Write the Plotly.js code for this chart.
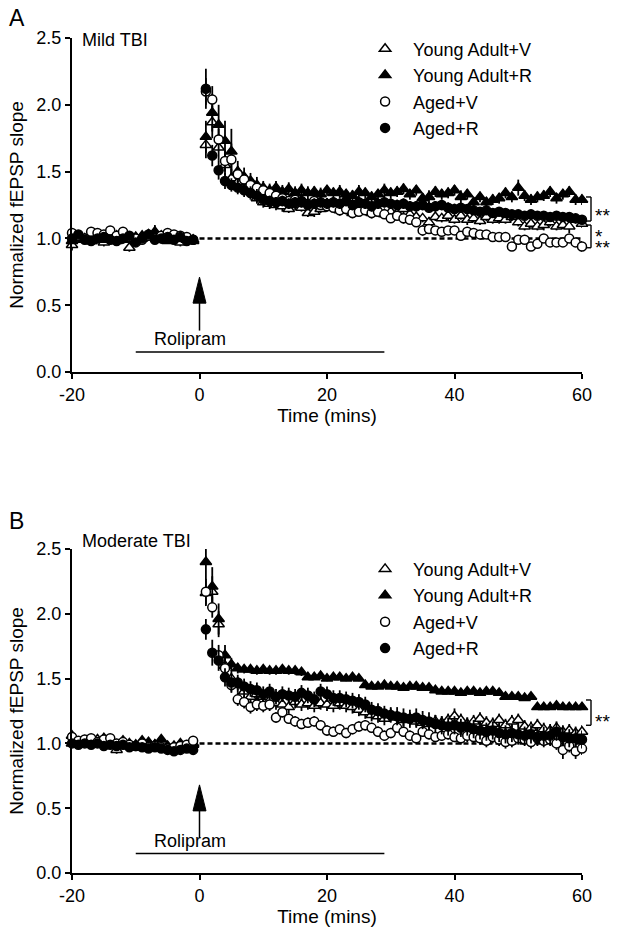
<!DOCTYPE html>
<html><head><meta charset="utf-8">
<script src="https://cdn.plot.ly/plotly-3.0.1.min.js"></script>
<style>html,body{margin:0;padding:0;background:#fff}#chart{width:624px;height:937px}</style>
</head><body><div id="chart"></div>
<script>
// ---- time points (min) ----
var timePre = [-20,-19,-18,-17,-16,-15,-14,-13,-12,-11,-10,-9,-8,-7,-6,-5,-4,-3,-2,-1];
var timePost = [1,2,3,4,5,6,7,8,9,10,11,12,13,14,15,16,17,18,19,20,21,22,23,24,25,26,27,28,29,30,
  31,32,33,34,35,36,37,38,39,40,41,42,43,44,45,46,47,48,49,50,51,52,53,54,55,56,57,58,59,60];
var seriesNames = ['Young Adult+V','Young Adult+R','Aged+V','Aged+R'];
var xTickVals = [-20,0,20,40,60];
var xTickText = ['-20','0','20','40','60'];
var yTickVals = [0,0.5,1,1.5,2,2.5];

// ---- Panel A: Mild TBI (normalized fEPSP slope) ----
var mildYoungV = [0.95,0.99,1.00,0.98,0.99,0.97,1.00,0.98,0.99,0.93,0.98,1.00,1.01,1.02,0.99,0.98,1.00,0.97,1.00,0.99,
  1.70,1.87,1.68,1.55,1.45,1.42,1.38,1.35,1.30,1.27,
  1.26,1.25,1.24,1.22,1.25,1.23,1.19,1.20,1.22,1.26,
  1.23,1.21,1.22,1.19,1.20,1.21,1.19,1.20,1.18,1.20,
  1.19,1.22,1.18,1.16,1.15,1.12,1.16,1.15,1.17,1.14,
  1.17,1.14,1.15,1.13,1.16,1.14,1.15,1.14,1.16,1.12,
  1.09,1.11,1.09,1.10,1.12,1.09,1.10,1.09,1.14,1.11];
var mildYoungR = [0.98,1.00,0.99,0.98,1.01,0.99,1.00,1.02,1.00,0.99,1.01,1.02,1.03,1.05,1.02,0.99,1.00,1.01,0.99,0.98,
  1.76,1.94,1.85,1.73,1.65,1.50,1.46,1.43,1.40,1.38,
  1.36,1.38,1.35,1.37,1.34,1.36,1.34,1.35,1.33,1.36,
  1.34,1.35,1.33,1.32,1.35,1.34,1.31,1.33,1.36,1.34,
  1.35,1.37,1.33,1.36,1.30,1.31,1.35,1.33,1.34,1.36,
  1.31,1.33,1.27,1.31,1.27,1.29,1.30,1.34,1.31,1.38,
  1.32,1.29,1.31,1.32,1.35,1.30,1.33,1.35,1.29,1.29];
var mildAgedV = [1.04,1.02,1.00,1.05,1.04,1.03,1.06,1.02,1.05,1.01,1.00,0.99,1.02,1.00,1.02,1.04,1.03,1.02,1.01,0.99,
  2.10,2.04,1.74,1.58,1.59,1.48,1.44,1.40,1.38,1.36,
  1.34,1.32,1.30,1.28,1.29,1.27,1.26,1.28,1.25,1.24,
  1.23,1.21,1.22,1.19,1.20,1.21,1.19,1.20,1.18,1.15,
  1.17,1.15,1.14,1.12,1.06,1.07,1.06,1.05,1.06,1.06,
  1.02,1.05,1.04,1.03,1.03,1.01,1.01,1.01,0.94,0.99,
  0.99,0.94,0.96,1.00,0.97,0.97,0.97,1.00,0.97,0.94];
var mildAgedR = [1.00,1.03,0.99,0.98,1.00,1.01,0.99,0.98,1.00,1.02,0.97,1.00,1.03,0.99,1.00,1.01,0.99,1.01,0.98,0.99,
  2.12,1.62,1.51,1.43,1.40,1.38,1.36,1.34,1.32,1.29,
  1.28,1.27,1.28,1.26,1.27,1.28,1.25,1.26,1.27,1.26,
  1.27,1.26,1.28,1.25,1.27,1.26,1.24,1.26,1.27,1.26,
  1.25,1.26,1.24,1.24,1.25,1.23,1.24,1.25,1.23,1.22,
  1.23,1.22,1.21,1.20,1.21,1.19,1.20,1.19,1.18,1.18,
  1.17,1.18,1.17,1.17,1.16,1.17,1.16,1.16,1.15,1.14];
// SEM
var mildYoungVsem = [0.04,0.02,0.02,0.03,0.02,0.03,0.02,0.02,0.03,0.03,0.02,0.03,0.02,0.02,0.03,0.02,0.02,0.03,0.02,0.02,
  0.10,0.12,0.10,0.08,0.07,0.06,0.05,0.05,0.04,0.04,
  0.04,0.04,0.04,0.03,0.04,0.03,0.03,0.04,0.03,0.04,
  0.03,0.03,0.04,0.03,0.03,0.03,0.04,0.03,0.03,0.03,
  0.03,0.04,0.03,0.03,0.03,0.04,0.03,0.03,0.04,0.03,
  0.03,0.04,0.03,0.03,0.03,0.03,0.04,0.03,0.03,0.03,
  0.03,0.03,0.03,0.04,0.03,0.03,0.03,0.05,0.03,0.03];
var mildYoungRsem = [0.02,0.03,0.02,0.02,0.03,0.02,0.03,0.03,0.02,0.02,0.03,0.03,0.04,0.05,0.03,0.02,0.03,0.02,0.02,0.02,
  0.12,0.14,0.15,0.15,0.17,0.08,0.07,0.06,0.06,0.05,
  0.05,0.05,0.05,0.05,0.05,0.05,0.05,0.04,0.05,0.04,
  0.04,0.05,0.04,0.04,0.05,0.04,0.04,0.04,0.05,0.04,
  0.04,0.04,0.04,0.04,0.04,0.05,0.04,0.04,0.04,0.04,
  0.05,0.04,0.04,0.04,0.04,0.04,0.04,0.04,0.04,0.06,
  0.04,0.04,0.04,0.04,0.04,0.04,0.04,0.04,0.04,0.04];
var mildAgedVsem = [0.03,0.02,0.02,0.02,0.03,0.02,0.03,0.02,0.02,0.02,0.02,0.02,0.02,0.02,0.03,0.02,0.02,0.02,0.02,0.02,
  0.10,0.10,0.08,0.08,0.12,0.06,0.05,0.05,0.05,0.04,
  0.04,0.04,0.04,0.04,0.04,0.04,0.03,0.04,0.03,0.04,
  0.03,0.04,0.03,0.04,0.03,0.03,0.04,0.03,0.03,0.03,
  0.03,0.04,0.03,0.03,0.04,0.03,0.03,0.03,0.03,0.03,
  0.03,0.03,0.03,0.03,0.03,0.03,0.03,0.03,0.03,0.03,
  0.03,0.03,0.03,0.03,0.03,0.03,0.03,0.03,0.03,0.04];
var mildAgedRsem = [0.03,0.02,0.02,0.02,0.02,0.02,0.02,0.02,0.02,0.02,0.02,0.02,0.03,0.02,0.02,0.02,0.02,0.02,0.02,0.02,
  0.15,0.08,0.07,0.06,0.05,0.05,0.05,0.05,0.05,0.04,
  0.04,0.04,0.04,0.04,0.04,0.04,0.04,0.04,0.04,0.04,
  0.04,0.04,0.04,0.04,0.04,0.04,0.04,0.04,0.04,0.04,
  0.04,0.04,0.04,0.04,0.04,0.04,0.04,0.04,0.04,0.04,
  0.03,0.03,0.03,0.03,0.03,0.03,0.03,0.03,0.03,0.03,
  0.03,0.03,0.03,0.03,0.03,0.03,0.03,0.03,0.03,0.03];

// ---- Panel B: Moderate TBI ----
var modYoungV = [1.06,1.00,1.02,1.00,1.03,1.01,0.99,0.95,0.98,0.99,0.98,0.97,0.98,0.99,0.97,0.96,0.98,0.97,0.98,1.00,
  2.16,2.17,1.92,1.60,1.50,1.45,1.40,1.36,1.38,1.36,
  1.33,1.31,1.30,1.28,1.32,1.30,1.31,1.29,1.31,1.30,
  1.29,1.31,1.29,1.28,1.26,1.24,1.22,1.21,1.19,1.22,
  1.20,1.18,1.19,1.17,1.16,1.15,1.17,1.16,1.18,1.21,
  1.18,1.15,1.17,1.19,1.16,1.15,1.18,1.14,1.17,1.18,
  1.13,1.12,1.14,1.11,1.10,1.12,1.09,1.10,1.08,1.09];
var modYoungR = [1.00,1.01,1.00,1.02,1.00,1.04,1.01,0.99,1.02,1.00,0.99,1.02,1.01,0.99,1.03,0.98,0.97,1.00,0.98,0.99,
  2.40,2.21,1.96,1.68,1.61,
  1.58,1.57,1.57,1.56,1.57,1.56,1.56,1.57,1.56,1.56,1.55,
  1.51,1.51,1.52,1.50,1.51,1.51,1.50,1.51,1.50,
  1.45,1.44,1.44,1.45,1.44,1.44,1.43,1.44,1.44,1.43,1.43,
  1.41,1.40,1.40,1.40,1.39,1.40,1.40,1.39,1.40,1.40,1.39,
  1.36,1.36,1.36,1.35,1.36,
  1.28,1.28,1.28,1.29,1.28,1.28,1.28,1.28];
var modAgedV = [1.05,1.02,1.03,1.04,1.01,1.03,1.04,1.00,1.01,0.99,0.98,1.00,0.97,0.98,0.97,0.96,0.97,0.98,0.99,1.02,
  2.17,2.05,1.68,1.58,1.45,1.34,1.32,1.28,1.30,1.29,
  1.30,1.20,1.24,1.19,1.17,1.15,1.16,1.17,1.14,1.10,
  1.09,1.11,1.08,1.11,1.13,1.14,1.12,1.09,1.06,1.08,
  1.12,1.09,1.06,1.04,1.09,1.07,1.05,1.06,1.07,1.05,
  1.04,1.06,1.05,1.04,1.02,1.05,1.03,1.01,1.02,1.04,
  1.03,1.01,1.04,1.02,1.03,1.00,0.95,0.98,0.94,0.96];
var modAgedR = [1.00,0.99,1.00,0.99,1.00,0.98,0.99,0.98,0.99,0.97,0.98,0.97,0.96,0.97,0.96,0.95,0.94,0.95,0.96,0.95,
  1.88,1.70,1.64,1.51,1.47,1.47,1.44,1.42,1.41,1.38,
  1.40,1.36,1.38,1.37,1.36,1.39,1.37,1.34,1.40,1.38,
  1.35,1.35,1.34,1.33,1.32,1.30,1.26,1.25,1.23,1.22,
  1.21,1.20,1.19,1.20,1.18,1.17,1.15,1.14,1.13,1.14,
  1.12,1.13,1.11,1.10,1.09,1.10,1.08,1.07,1.08,1.07,
  1.06,1.07,1.05,1.06,1.06,1.09,1.05,1.04,1.04,1.03];
var modYoungVsem = [0.03,0.02,0.02,0.02,0.03,0.02,0.02,0.03,0.02,0.02,0.02,0.02,0.02,0.02,0.02,0.02,0.02,0.02,0.02,0.02,
  0.10,0.12,0.10,0.08,0.07,0.06,0.06,0.05,0.05,0.05,
  0.05,0.05,0.05,0.05,0.05,0.05,0.05,0.05,0.05,0.05,
  0.05,0.05,0.05,0.05,0.05,0.05,0.05,0.05,0.05,0.05,
  0.05,0.05,0.05,0.05,0.05,0.05,0.05,0.05,0.05,0.06,
  0.05,0.05,0.05,0.05,0.05,0.05,0.05,0.05,0.05,0.05,
  0.05,0.05,0.05,0.05,0.05,0.05,0.05,0.05,0.05,0.05];
var modYoungRsem = [0.02,0.02,0.02,0.02,0.02,0.03,0.02,0.02,0.02,0.02,0.02,0.02,0.02,0.02,0.03,0.02,0.02,0.02,0.02,0.02,
  0.14,0.15,0.12,0.08,0.05,0.04,0.03,0.03,0.03,0.03,
  0.03,0.03,0.03,0.03,0.03,0.03,0.02,0.02,0.02,0.02,
  0.02,0.02,0.02,0.02,0.02,0.02,0.02,0.02,0.02,0.02,
  0.02,0.02,0.02,0.02,0.02,0.02,0.02,0.02,0.02,0.02,
  0.02,0.02,0.02,0.02,0.02,0.02,0.02,0.02,0.02,0.02,
  0.02,0.02,0.02,0.02,0.02,0.02,0.02,0.02,0.02,0.02];
var modAgedVsem = [0.02,0.02,0.02,0.02,0.02,0.02,0.02,0.02,0.02,0.02,0.02,0.02,0.02,0.02,0.02,0.02,0.02,0.02,0.02,0.02,
  0.10,0.08,0.08,0.07,0.06,0.05,0.05,0.05,0.05,0.05,
  0.05,0.04,0.04,0.04,0.04,0.04,0.04,0.04,0.04,0.04,
  0.04,0.04,0.04,0.04,0.04,0.04,0.04,0.04,0.04,0.04,
  0.04,0.04,0.04,0.04,0.04,0.04,0.04,0.04,0.04,0.04,
  0.05,0.05,0.05,0.05,0.05,0.05,0.05,0.05,0.05,0.05,
  0.05,0.05,0.05,0.05,0.05,0.05,0.07,0.05,0.06,0.05];
var modAgedRsem = [0.02,0.02,0.02,0.02,0.02,0.02,0.02,0.02,0.02,0.02,0.02,0.02,0.02,0.02,0.02,0.02,0.02,0.02,0.02,0.02,
  0.08,0.10,0.08,0.07,0.07,0.06,0.06,0.06,0.06,0.06,
  0.06,0.06,0.06,0.06,0.06,0.06,0.06,0.06,0.06,0.06,
  0.06,0.06,0.06,0.06,0.06,0.06,0.06,0.06,0.06,0.06,
  0.07,0.07,0.07,0.07,0.07,0.07,0.07,0.07,0.07,0.07,
  0.07,0.07,0.07,0.07,0.07,0.07,0.07,0.07,0.07,0.07,
  0.07,0.07,0.07,0.07,0.07,0.07,0.07,0.07,0.07,0.07];

// ---- annotation constants ----
var baselineLevel = 1;
var dashStart = 0, dashEnd = 60;
var drugOnset = 0;
var roliBarStart = -10, roliBarEnd = 29, roliBarLevel = 0.15;
var arrowTipA = 0.71, arrowBaseA = 0.31;
var arrowTipB = 0.68, arrowBaseB = 0.27;
var bracketsA = [[1.31, 1.13], [1.10, 0.93]];
var bracketsB = [[1.335, 1.14]];

var time = timePre.concat(timePost);
var FONT = 'Liberation Sans, Arial, sans-serif';
var BLACK = '#000';

var styles = [
  {symbol:'triangle-up', color:'#fff', size:10},
  {symbol:'triangle-up', color:'#000', size:10},
  {symbol:'circle', color:'#fff', size:9},
  {symbol:'circle', color:'#000', size:9}
];

function mk(i, y, sem, xa, ya, leg) {
  var s = styles[i];
  return {
    type:'scatter', mode:'markers', x:time, y:y, name:seriesNames[i],
    xaxis:xa, yaxis:ya, legend:leg, cliponaxis:false,
    marker:{symbol:s.symbol, size:s.size, color:s.color, line:{color:BLACK, width:1.5}},
    error_y:{type:'data', array:sem, visible:true, color:BLACK, thickness:1.8, width:0}
  };
}

var data = [
  mk(0, mildYoungV, mildYoungVsem, 'x', 'y', 'legend'),
  mk(1, mildYoungR, mildYoungRsem, 'x', 'y', 'legend'),
  mk(2, mildAgedV, mildAgedVsem, 'x', 'y', 'legend'),
  mk(3, mildAgedR, mildAgedRsem, 'x', 'y', 'legend'),
  mk(0, modYoungV, modYoungVsem, 'x2', 'y2', 'legend2'),
  mk(1, modYoungR, modYoungRsem, 'x2', 'y2', 'legend2'),
  mk(2, modAgedV, modAgedVsem, 'x2', 'y2', 'legend2'),
  mk(3, modAgedR, modAgedRsem, 'x2', 'y2', 'legend2')
];

function xax(anchor) {
  return {anchor:anchor, range:[-20,60], tickvals:xTickVals, ticktext:xTickText,
    ticks:'outside', ticklen:5, tickwidth:2, tickcolor:BLACK, showline:true, linewidth:2, linecolor:BLACK,
    showgrid:false, zeroline:false, tickfont:{size:18, color:BLACK, family:FONT},
    title:{text:'Time (mins)', font:{size:19, color:BLACK, family:FONT}, standoff:2}};
}
function yax(anchor, dom) {
  return {anchor:anchor, domain:dom, range:[0,2.5], tickvals:yTickVals, tickformat:'.1f',
    ticks:'outside', ticklen:5, tickwidth:2, tickcolor:BLACK, showline:true, linewidth:2, linecolor:BLACK,
    showgrid:false, zeroline:false, tickfont:{size:18, color:BLACK, family:FONT},
    title:{text:'Normalized fEPSP slope', font:{size:19, color:BLACK, family:FONT}, standoff:8}};
}

var shapes = [];
var annotations = [];
function panelDecor(xr, yr, tip, base, brackets, label, ltag, lyPaper, starTexts) {
  shapes.push({type:'line', xref:xr, yref:yr, x0:dashStart, x1:dashEnd, y0:baselineLevel, y1:baselineLevel,
    line:{color:BLACK, width:2.5, dash:'5px,3px'}, layer:'below'});
  shapes.push({type:'line', xref:xr, yref:yr, x0:roliBarStart, x1:roliBarEnd, y0:roliBarLevel, y1:roliBarLevel,
    line:{color:BLACK, width:1.5}});
  shapes.push({type:'line', xref:xr, yref:yr, x0:drugOnset, x1:drugOnset, y0:base, y1:tip - 0.12,
    line:{color:BLACK, width:1.5}});
  shapes.push({type:'path', xref:xr, yref:yr, xsizemode:'pixel', ysizemode:'pixel', xanchor:drugOnset, yanchor:tip,
    path:'M-6.5,-26L0,0L6.5,-26Z', fillcolor:BLACK, line:{color:BLACK, width:1}});
  brackets.forEach(function(b) {
    var ln = {color:BLACK, width:1.4};
    shapes.push({type:'line', xref:'paper', yref:yr, xsizemode:'pixel', xanchor:1, x0:9, x1:9, y0:b[0], y1:b[1], line:ln});
    shapes.push({type:'line', xref:'paper', yref:yr, xsizemode:'pixel', xanchor:1, x0:4, x1:9, y0:b[0], y1:b[0], line:ln});
    shapes.push({type:'line', xref:'paper', yref:yr, xsizemode:'pixel', xanchor:1, x0:4, x1:9, y0:b[1], y1:b[1], line:ln});
  });
  annotations.push({xref:xr, yref:yr, x:drugOnset - 1.5, y:roliBarLevel, yanchor:'bottom', yshift:1,
    text:'Rolipram', showarrow:false, font:{size:18, color:BLACK, family:FONT}});
  annotations.push({xref:xr, yref:yr, x:-20, y:2.5, xanchor:'left', yanchor:'middle', xshift:8, yshift:ltag==='B'?8:-2,
    text:label, showarrow:false, font:{size:18, color:BLACK, family:FONT}});
  annotations.push({xref:'paper', yref:'paper', x:-0.128, y:lyPaper, xanchor:'left', yanchor:'middle',
    text:ltag, showarrow:false, font:{size:23, color:BLACK, family:FONT}});
  starTexts.forEach(function(st) {
    annotations.push({xref:xr, yref:yr, x:dashEnd, y:st[1], xanchor:'left', yanchor:'middle', xshift:11, yshift:-5,
      text:st[0], showarrow:false, font:{size:19, color:BLACK, family:FONT}});
  });
}
panelDecor('x', 'y', arrowTipA, arrowBaseA, bracketsA, 'Mild TBI', 'A', 1.024, [['**',1.21],['*',1.055],['**',0.97]]);
panelDecor('x2', 'y2', arrowTipB, arrowBaseB, bracketsB, 'Moderate TBI', 'B', 0.421, [['**',1.21]]);

var legendBase = {x:0.559, xanchor:'left', yanchor:'top', bgcolor:'rgba(0,0,0,0)', borderwidth:0,
  font:{size:18, color:BLACK, family:FONT}, itemwidth:46};
var layout = {
  width:624, height:937, margin:{l:72, r:42, t:38, b:64},
  paper_bgcolor:'#fff', plot_bgcolor:'#fff', font:{family:FONT, color:BLACK},
  xaxis:xax('y'), yaxis:yax('x', [0.6, 1]),
  xaxis2:xax('y2'), yaxis2:yax('x2', [0, 0.388]),
  legend:Object.assign({}, legendBase, {y:1.009}),
  legend2:Object.assign({}, legendBase, {y:0.386}),
  shapes:shapes, annotations:annotations, showlegend:true
};
Plotly.newPlot('chart', data, layout, {staticPlot:true, displayModeBar:false});
</script></body></html>
